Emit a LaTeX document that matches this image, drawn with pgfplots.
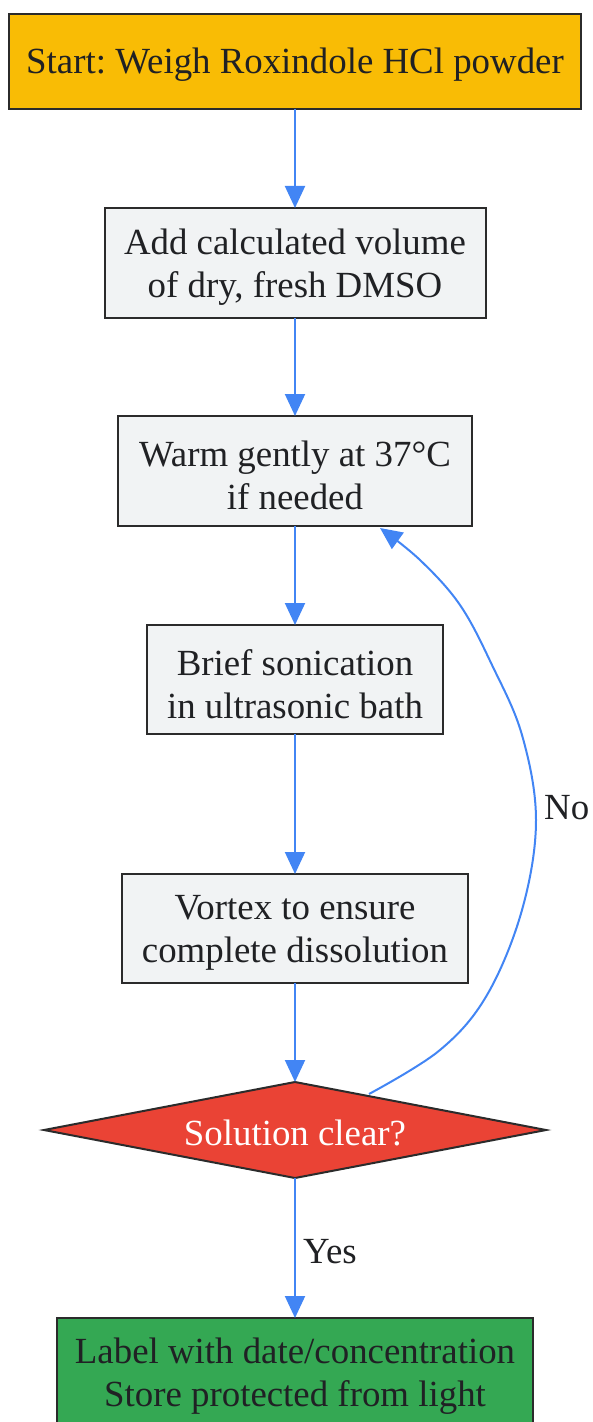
\documentclass[border=0pt]{standalone}
\usepackage{pgfplots}
\pgfplotsset{compat=1.18}
\usepackage{fontspec}
\setmainfont{Liberation Serif}
\frenchspacing
\usetikzlibrary{arrows.meta}
\definecolor{cOrange}{HTML}{F9BC05}
\definecolor{cGray}{HTML}{F1F3F4}
\definecolor{cRed}{HTML}{EA4335}
\definecolor{cGreen}{HTML}{34A853}
\definecolor{cBlue}{HTML}{4285F4}
\definecolor{cBorder}{HTML}{2B2B2B}
\definecolor{cText}{HTML}{202124}
\begin{document}
\begin{tikzpicture}[
  bx/.style={draw=cBorder, line width=2bp},
  tx/.style={text=cText, align=center, font=\fontsize{37}{43}\selectfont, inner sep=0pt},
  ar/.style={draw=cBlue, line width=2bp, -{Triangle[length=22bp,width=20bp]}}
]
\begin{axis}[width=593bp,height=1422bp,scale only axis,
  xmin=0,xmax=593,ymin=0,ymax=1422,y dir=reverse,hide axis,clip=false]
% boxes
\filldraw[bx, fill=cOrange] (axis cs:9,14) rectangle (axis cs:581,109);
\filldraw[bx, fill=cGray] (axis cs:105,208) rectangle (axis cs:486,318);
\filldraw[bx, fill=cGray] (axis cs:118,416) rectangle (axis cs:472,526);
\filldraw[bx, fill=cGray] (axis cs:147,625) rectangle (axis cs:443,734);
\filldraw[bx, fill=cGray] (axis cs:122,874) rectangle (axis cs:468,983);
\filldraw[bx, fill=cRed] (axis cs:44,1130) -- (axis cs:295,1082) -- (axis cs:546,1130) -- (axis cs:295,1178) -- cycle;
\filldraw[bx, fill=cGreen] (axis cs:57,1318) rectangle (axis cs:533,1440);
% texts
\node[tx] at (axis cs:295,65) {Start: Weigh Roxindole HCl powder};
\node[tx] at (axis cs:295,267) {Add calculated volume\\of dry, fresh DMSO};
\node[tx] at (axis cs:295,475) {Warm gently at 37°C\\if needed};
\node[tx] at (axis cs:295,684) {Brief sonication\\in ultrasonic bath};
\node[tx] at (axis cs:295,933) {Vortex to ensure\\complete dissolution};
\node[tx, text=white] at (axis cs:295,1133) {Solution clear?};
\node[tx] at (axis cs:295,1376) {Label with date/concentration\\Store protected from light};
% arrows
\draw[ar] (axis cs:295,109) -- (axis cs:295,208);
\draw[ar] (axis cs:295,318) -- (axis cs:295,416);
\draw[ar] (axis cs:295,526) -- (axis cs:295,625);
\draw[ar] (axis cs:295,734) -- (axis cs:295,874);
\draw[ar] (axis cs:295,983) -- (axis cs:295,1082);
\draw[ar] (axis cs:295,1178) -- (axis cs:295,1318);
\draw[ar] plot[smooth, tension=0.6] coordinates {(axis cs:369,1094) (axis cs:440,1050) (axis cs:487,995) (axis cs:522,910) (axis cs:536,820) (axis cs:522,735) (axis cs:492,665) (axis cs:460,605) (axis cs:420,560) (axis cs:380,528)};
\node[tx, anchor=west] at (axis cs:303,1252) {Yes};
\node[tx, anchor=west] at (axis cs:544,808) {No};
\end{axis}
\pgfresetboundingbox
\path (0,0) rectangle (593bp,1422bp);
\end{tikzpicture}
\end{document}
